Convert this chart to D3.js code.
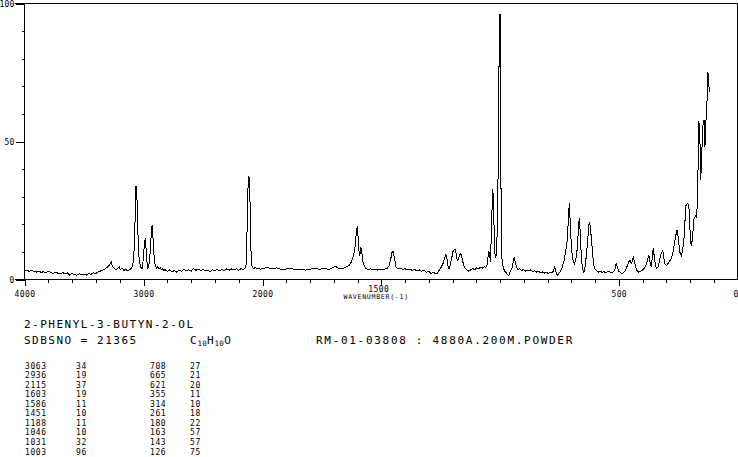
<!DOCTYPE html>
<html><head><meta charset="utf-8">
<script src="https://cdn.jsdelivr.net/npm/d3@7"></script>
<style>
html,body{margin:0;padding:0;background:#fff;}
svg{display:block;background:#fff;}
text{font-family:"DejaVu Sans Mono","Liberation Mono",monospace;fill:#000;}
</style></head><body>
<svg id="c" width="738" height="457"></svg>
<script>
// ---- spectrum points: [wavenumber (cm-1), relative intensity] ----
const spectrumPoints = [
[4000,3.0],[3980,3.4],[3960,2.9],[3940,3.3],[3920,3.0],[3900,2.7],[3880,3.0],[3860,2.6],[3840,2.8],[3820,2.5],
[3800,2.9],[3780,2.6],[3760,2.2],[3740,2.7],[3720,2.3],[3700,2.0],[3680,2.5],[3660,2.1],[3640,2.4],[3620,1.6],
[3600,2.2],[3580,1.8],[3560,1.5],[3540,2.1],[3520,1.7],[3500,2.0],[3480,1.6],[3460,2.2],[3440,1.9],[3420,2.4],
[3400,2.2],[3380,2.8],[3360,3.1],[3340,3.4],[3320,3.9],[3300,4.6],[3285,5.2],[3272,6.5],[3262,4.8],[3250,4.2],
[3235,3.6],[3220,3.9],[3205,4.6],[3195,3.5],[3180,4.2],[3165,3.3],[3150,3.7],[3135,3.1],[3120,3.4],[3105,3.9],
[3095,4.5],[3085,6.5],[3075,14],[3068,27],[3063,34],[3058,33],[3053,27],[3047,17],[3040,9],[3031,6],
[3020,4.2],[3012,3.9],[3005,6],[2998,10],[2990,13.5],[2985,15],[2978,11],[2970,6],[2963,3.9],[2955,5],
[2948,7.5],[2940,13],[2934,17],[2928,19.6],[2922,17],[2916,11.5],[2908,7],[2900,4.8],[2890,4.2],[2880,4.6],
[2870,3.7],[2860,4.3],[2850,3.5],[2840,3.9],[2830,3.2],[2820,3.6],[2800,3.0],[2780,3.5],[2760,2.8],[2740,3.3],
[2720,2.6],[2700,3.4],[2680,2.9],[2660,3.7],[2640,3.1],[2620,3.5],[2600,3.0],[2580,4.0],[2560,3.3],[2540,3.8],
[2520,3.2],[2500,3.6],[2480,3.1],[2460,3.4],[2440,2.9],[2420,3.5],[2400,3.2],[2380,3.7],[2360,3.1],[2340,3.6],
[2320,3.3],[2300,3.9],[2280,3.4],[2260,3.8],[2240,3.5],[2220,3.9],[2200,3.3],[2180,4.0],[2160,3.6],[2145,4.2],
[2135,5.8],[2127,24],[2122,33],[2117,36],[2114,37.5],[2110,35],[2106,31],[2100,15],[2094,7],[2087,4.5],
[2075,4.0],[2060,4.3],[2045,3.8],[2030,4.2],[2015,3.7],[2000,4.0],
[1980,4.3],[1960,3.9],[1940,4.2],[1920,3.6],[1900,3.8],[1880,4.1],[1860,3.5],[1840,3.8],[1820,3.4],[1800,3.7],
[1780,4.1],[1760,3.7],[1740,4.0],[1720,3.6],[1710,4.1],[1700,4.4],[1693,4.8],[1685,4.3],[1675,4.0],[1665,3.8],
[1655,4.3],[1645,4.6],[1635,5.2],[1625,6.5],[1617,8.5],[1610,12],[1605,17],[1601,19.2],[1597,15],[1593,9.5],
[1590,8.7],[1586,11.7],[1582,10],[1577,6.5],[1571,4.8],[1565,4.0],[1555,3.6],[1545,3.9],[1535,3.5],[1525,3.8],
[1515,3.4],[1505,3.7],[1495,3.5],[1485,3.8],[1475,4.0],[1467,5.0],[1460,7.5],[1454,10.1],[1449,10],[1444,7.5],
[1438,4.6],[1430,3.9],[1420,4.1],[1410,3.6],[1400,3.9],[1390,3.5],[1380,3.8],[1370,3.3],[1360,3.6],[1350,3.2],
[1340,3.5],[1330,3.0],[1320,3.3],[1310,2.6],[1300,2.9],[1290,2.2],[1280,2.6],[1270,2.0],[1262,2.4],[1255,3.6],
[1248,4.4],[1240,5.8],[1233,8.0],[1228,9.0],[1223,7.5],[1218,4.5],[1215,3.9],[1210,5.0],[1204,7.5],[1197,10.5],
[1190,11.1],[1185,9.5],[1180,6.9],[1175,7.5],[1168,9.3],[1163,9.0],[1157,6.5],[1150,4.5],[1140,3.5],[1131,3.0],
[1122,3.6],[1114,3.9],[1106,3.5],[1098,4.2],[1090,4.0],[1082,4.4],[1074,4.1],[1066,4.6],[1060,4.3],[1055,5.0],
[1051,8.0],[1047,10.3],[1043,8.5],[1040,6.3],[1036,18],[1032,30],[1030,32.9],[1026,22],[1022,10],[1019,8.0],
[1014,9.5],[1009,30],[1005,70],[1002,96],[999,96],[997,50],[994,9.4],[988,5.0],[981,3.0],[976,2.6],
[970,2.0],[963,1.4],[957,2.8],[950,4.0],[945,6.0],[940,8.0],[936,6.5],[931,4.6],[925,3.6],[918,3.9],
[910,3.2],[902,3.6],[894,3.0],[886,3.4],[878,3.1],[870,3.5],[862,2.8],[854,3.2],[846,2.7],[838,3.0],
[830,2.5],[822,2.8],[814,2.3],[806,2.7],[798,2.2],[790,2.5],[782,2.4],[775,3.0],[771,4.5],[767,4.0],
[763,2.0],[759,1.4],[752,2.2],[745,3.0],[738,4.5],[730,7.0],[722,11],[717,14],[712,22],[708,27.8],
[704,20],[699,11],[693,7.0],[687,5.7],[682,7.0],[677,9.0],[672,15],[668,21],[665,22.3],[661,14],
[656,6.5],[651,3.5],[647,2.6],[642,4.5],[636,9.0],[630,15],[626,20],[622,20.5],[618,17],[615,15.3],
[611,10],[606,5.5],[601,3.9],[594,3.2],[586,2.7],[578,3.0],[570,2.6],[562,2.8],[554,2.5],[546,2.9],
[538,2.7],[530,2.4],[522,2.8],[516,3.5],[511,5.7],[506,4.5],[500,3.0],[493,2.5],[485,2.0],[478,2.6],
[472,3.2],[466,4.5],[460,6.0],[455,6.8],[451,7.0],[447,5.5],[441,7.5],[438,8.0],[433,6.0],[427,4.0],
[421,2.9],[416,2.7],[410,3.0],[404,3.2],[398,3.6],[392,4.2],[386,5.0],[380,6.5],[376,8.0],[373,8.7],
[368,6.0],[363,4.5],[359,8.0],[355,11.5],[350,8.0],[345,5.0],[341,3.9],[335,4.5],[329,6.5],[323,9.0],
[318,10.0],[315,10.7],[310,7.5],[305,5.5],[299,5.0],[293,5.7],[287,6.5],[281,7.2],[277,8.0],[270,10.5],
[264,14],[258,16.7],[254,18],[248,14],[243,10],[236,8.3],[231,11],[226,14],[222,20],[217,26.8],
[211,27.5],[205,27.2],[201,19],[195,12.1],[189,15],[185,21.4],[180,22.6],[176,23],[172,22.6],[168,30],
[166,40.7],[163,57.6],[159,54],[155,35.9],[151,43],[147,55.2],[142,57.6],[139,57.6],[137,48],[133,57.6],
[130,58.3],[127,70],[125,75.1],[122,74],[119,67.9]
];

// ---- axis ticks / labels ----
const xMajorTicks = [4000, 3000, 2000, 1500, 500, 0];
const xMinorTicks = [3800,3600,3400,3200,2800,2600,2400,2200,
  1900,1800,1700,1600,1400,1300,1200,1100,1000,900,800,700,600,400,300,200,100];
const yMajorTicks = [0, 50, 100];
const yMinorTicks = [10, 20, 30, 40, 60, 70, 80, 90];
const xAxisTitle = "WAVENUMBER(-1)";

// ---- header texts ----
const compoundName = "2-PHENYL-3-BUTYN-2-OL";
const sdbsLine = "SDBSNO = 21365";
const formulaParts = [["C",false],["10",true],["H",false],["10",true],["O",false]];
const measurementLine = "RM-01-03808 : 4880A.200M.POWDER";

// ---- peak table ----
const peakWavenumbersA = [3063, 2936, 2115, 1603, 1586, 1451, 1188, 1046, 1031, 1003];
const peakIntensitiesA = [34, 19, 37, 19, 11, 10, 11, 10, 32, 96];
const peakWavenumbersB = [708, 665, 621, 355, 314, 261, 180, 163, 143, 126];
const peakIntensitiesB = [27, 21, 20, 11, 10, 18, 22, 57, 57, 75];

const svg = d3.select("#c");
const x = d3.scaleLinear().domain([4000, 2000, 0]).range([24.5, 262.5, 737.5]);
const y = d3.scaleLinear().domain([0, 100]).range([279.5, 3.5]);

// frame
const frame = svg.append("g").attr("stroke", "#000").attr("stroke-width", 1).attr("shape-rendering", "crispEdges");
frame.append("line").attr("x1", 15).attr("x2", 737.5).attr("y1", y(100)).attr("y2", y(100));
frame.append("line").attr("x1", 737.5).attr("x2", 737.5).attr("y1", y(100)).attr("y2", y(0));
frame.append("line").attr("x1", x(4000)).attr("x2", x(4000)).attr("y1", y(100)).attr("y2", y(0));
frame.append("line").attr("x1", 15).attr("x2", 737.5).attr("y1", y(0)).attr("y2", y(0));

function clean(g) {
  g.select(".domain").remove();
  g.attr("font-family", null).attr("font-size", null);
  g.selectAll("line").attr("stroke", "#000").attr("shape-rendering", "crispEdges");
}

// x axis
svg.append("g").attr("transform", `translate(0,${y(0)})`)
  .call(d3.axisBottom(x).tickValues(xMinorTicks).tickSize(3).tickFormat(""))
  .call(clean);
const gxMaj = svg.append("g").attr("transform", `translate(0,${y(0)})`)
  .call(d3.axisBottom(x).tickValues(xMajorTicks).tickSize(6).tickFormat(d => String(d)))
  .call(clean);
gxMaj.selectAll("text")
  .attr("dy", null)
  .attr("y", d => d === 1500 ? 12.7 : 17.5)
  .attr("x", d => d === 0 ? -2 : (d === 1500 ? -3 : 0))
  .style("font-size", "8px").style("letter-spacing", "0.4px");

svg.append("text").attr("x", 343.5).attr("y", 299)
  .style("font-size", "6.6px").style("letter-spacing", "0.7px").text(xAxisTitle);

// y axis
svg.append("g").attr("transform", `translate(${x(4000)},0)`)
  .call(d3.axisLeft(y).tickValues(yMinorTicks).tickSize(3).tickFormat(""))
  .call(clean);
const gyMaj = svg.append("g").attr("transform", `translate(${x(4000)},0)`)
  .call(d3.axisLeft(y).tickValues(yMajorTicks).tickSize(9).tickPadding(1).tickFormat(d => String(d)))
  .call(clean);
gyMaj.selectAll("text").style("font-size", "8px").style("letter-spacing", "0.2px");

// spectrum
const line = d3.line().x(d => x(d[0])).y(d => y(d[1]));
svg.append("path").datum(spectrumPoints)
  .attr("d", line).attr("fill", "none").attr("stroke", "#000").attr("stroke-width", 1)
  .attr("stroke-linejoin", "miter").attr("shape-rendering", "crispEdges");

// header
svg.append("text").attr("x", 24).attr("y", 327.5).style("font-size", "11px").style("letter-spacing", "1.5px").text(compoundName);
svg.append("text").attr("x", 24).attr("y", 344).style("font-size", "11px").style("letter-spacing", "1.5px").text(sdbsLine);
const ft = svg.append("text").attr("x", 190).attr("y", 344).style("font-size", "11px");
formulaParts.forEach(([t, sub]) => {
  ft.append("tspan").text(t)
    .style("font-size", sub ? "7.5px" : "11px")
    .attr("dy", sub ? 2 : (t === "C" ? 0 : -2))
    .style("letter-spacing", sub ? "0.3px" : "0.8px");
});
svg.append("text").attr("x", 316).attr("y", 344).style("font-size", "11px").style("letter-spacing", "1.7px").text(measurementLine);

// table
const rowY = d3.scaleLinear().domain([0, 9]).range([368.5, 454.5]);
const cols = [[peakWavenumbersA, 25], [peakIntensitiesA, 76], [peakWavenumbersB, 150], [peakIntensitiesB, 190]];
cols.forEach(([arr, cx]) => {
  svg.append("g").selectAll("text").data(arr).join("text")
    .attr("x", cx).attr("y", (d, i) => rowY(i))
    .style("font-size", "8px").style("letter-spacing", "0.6px")
    .text(d => String(d));
});
</script>
</body></html>
